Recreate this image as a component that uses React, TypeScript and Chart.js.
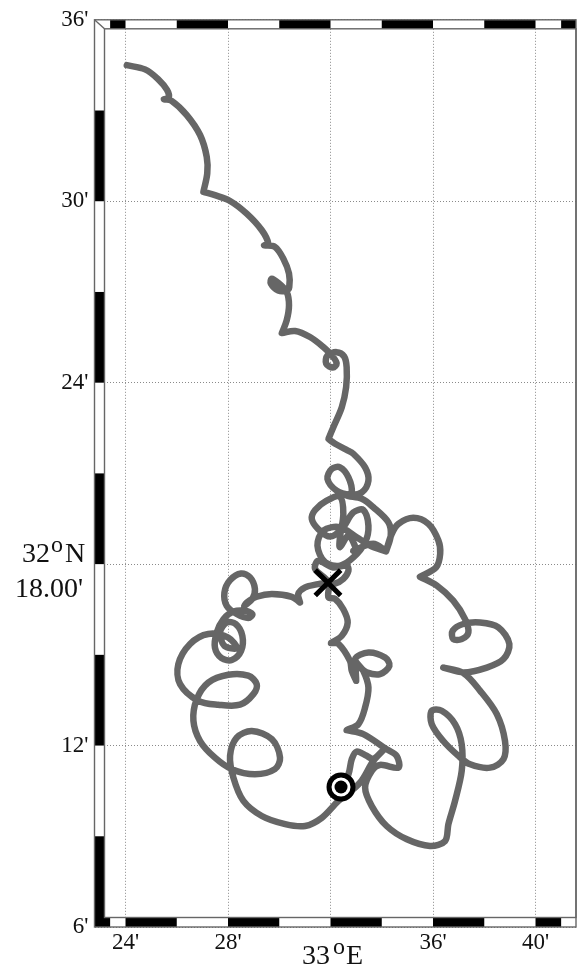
import { useEffect, useRef } from "react";
import { Chart, registerables } from "chart.js";

Chart.register(...registerables);

const trackLon = [
  24.05, 24.76, 25.27, 25.62, 25.69, 25.5, 25.5, 25.8, 26.39, 26.91, 27.17, 27.19, 27.04, 27.04, 27.49, 28.08, 28.73, 29.32, 29.57, 29.41, 29.41, 29.83, 30.16,
  30.38, 30.39, 30.29, 29.96, 29.67, 29.71, 29.99, 30.29, 30.38, 30.29, 30.1, 30.1, 30.62, 31.2, 31.72, 32.05, 32.24, 32.09, 31.83, 31.88, 32.24,
  32.53, 32.63, 32.61, 32.44, 32.11, 31.92, 31.92, 32.18, 32.63, 32.89, 33.35, 33.48, 33.22, 32.76, 32.24, 31.88, 32.05, 32.37, 32.7, 32.83,
  32.63, 33.22, 33.67, 34.26, 34.35, 34.17, 34.17, 33.54, 33.02, 32.37, 31.72, 31.49, 31.79, 32.37, 32.89, 33.35, 33.48, 33.28, 32.89, 32.44, 31.98,
  31.52, 31.27, 31.4, 31.85, 32.37, 32.5, 32.37, 32.37, 32.7, 33.02, 32.89, 33.67, 34.17, 34.17,
  34.39, 34.65, 35.23, 35.82, 36.21, 36.28, 36.12, 35.49, 35.49, 36.15, 36.79, 37.25, 37.38, 37.12, 36.79, 36.77, 37.18, 37.84, 38.55, 38.98, 38.75,
  38.1, 37.18, 36.4, 36.4, 37.18, 37.84, 38.49, 38.81, 38.75, 38.23, 37.45, 36.99, 36.4, 35.95, 35.95, 36.34, 36.86, 37.12, 37.12, 36.86, 36.6,
  36.47, 35.88, 34.98, 34.19, 33.61, 33.35, 33.61, 33.93, 34.65, 34.58, 34.13, 33.28, 32.63, 32.63, 33.09, 33.35, 33.48, 33.28, 32.96, 33.48, 34.13,
  34.3, 33.93, 33.41, 33.02, 33.0, 33.0, 32.83, 32.76, 32.31, 32.02, 32.02, 32.44, 32.67, 32.5, 32.18, 31.92, 31.92, 31.4, 31.52, 32.11, 32.63, 32.7,
  32.5, 32.18, 31.66, 31.52, 31.01, 30.74, 30.81, 30.81, 30.49, 29.71, 29.12, 28.73, 28.64, 28.64, 28.95, 29.05, 28.86, 28.51, 28.08, 27.86, 27.95, 28.34,
  28.79, 28.95, 28.66, 28.21, 27.82, 27.56, 27.49, 27.75, 28.15, 28.51, 28.56, 28.3, 27.95, 27.69, 27.86, 28.34, 28.01, 27.23, 26.52, 26.06,
  26.13, 26.84, 27.62, 28.47, 28.99, 29.12, 28.79, 28.01, 27.23, 26.78, 26.65, 26.91, 27.49, 28.15, 29.05, 29.83, 30.03, 29.71, 28.93, 28.34,
  28.08, 28.21, 28.6, 29.32, 30.23, 31.01, 31.66, 32.31, 33.15, 33.67, 34.13, 34.13, 33.67, 33.41, 33.02, 32.83, 32.7, 32.41,
];

const trackLat = [
  34.5, 34.36, 34.04, 33.68, 33.43, 33.37, 33.37, 33.32, 32.85, 32.19, 31.47, 30.92, 30.31, 30.31, 30.2, 30.01, 29.59, 29.04, 28.6, 28.54, 28.54, 28.49, 28.1,
  27.61, 27.16, 27.05, 27.05, 27.28, 27.44, 27.28, 27.0, 26.56, 26.06, 25.64, 25.64, 25.71, 25.51, 25.18, 24.9, 24.64, 24.5, 24.63, 24.9, 25.01,
  24.87, 24.51, 23.85, 23.19, 22.53, 22.14, 22.14, 21.98, 21.78, 21.65, 21.2, 20.76, 20.37, 20.3, 20.43, 20.82, 21.15, 21.2, 20.87, 20.37,
  20.27, 20.16, 19.88, 19.38, 18.94, 18.42, 18.42, 18.61, 18.89, 19.22, 19.11, 18.61, 18.06, 17.95, 18.22, 18.72, 19.27, 19.79, 19.71, 19.16, 18.91,
  19.16, 19.49, 19.79, 20.1, 20.23, 19.66, 18.89, 18.56, 18.94, 18.44, 18.44, 18.67, 18.44, 18.44,
  19.0, 19.33, 19.53, 19.33, 18.78, 18.34, 17.89, 17.58, 17.58, 17.29, 16.79, 16.18, 15.74, 15.52, 15.52, 15.8, 16.02, 16.07, 15.91, 15.36, 14.86,
  14.58, 14.42, 14.58, 14.58, 14.4, 13.81, 13.04, 12.15, 11.55, 11.27, 11.38, 11.66, 12.15, 12.71, 13.15, 13.15, 12.71, 12.04, 11.16, 10.17, 9.4,
  8.84, 8.68, 8.9, 9.34, 10.0, 10.61, 11.16, 11.36, 11.27, 11.66, 11.91, 12.38, 12.51, 12.51, 12.71, 13.26, 13.92, 14.47, 14.86, 15.08, 14.91,
  14.64, 14.36, 14.42, 14.64, 14.14, 14.14, 14.47, 14.8, 15.36, 15.39, 15.39, 15.63, 16.07, 16.51, 16.85, 16.9, 17.4, 17.84, 18.11, 17.89, 17.95, 17.78,
  17.51, 17.36, 17.36, 17.34, 17.23, 17.01, 16.73, 16.73, 16.92, 17.01, 16.92, 16.73, 16.62, 16.62, 16.85, 17.18, 17.56, 17.69, 17.47, 17.06, 16.62, 16.35,
  16.22, 16.35, 16.46, 16.43, 16.18, 15.74, 15.24, 14.89, 14.83, 15.13, 15.63, 16.02, 16.07, 15.74, 15.3, 15.22, 15.57, 15.69, 15.36, 14.69,
  14.03, 13.48, 13.35, 13.35, 13.7, 14.03, 14.31, 14.34, 14.08, 13.53, 12.82, 12.15, 11.6, 11.22, 11.05, 11.22, 11.6, 12.21, 12.48, 12.26,
  11.66, 10.94, 10.17, 9.67, 9.4, 9.34, 9.61, 10.17, 10.77, 11.49, 11.91, 11.91, 11.56, 11.66, 11.8, 11.55, 11.05, 10.63,
];

const crossLon = [31.9];
const crossLat = [17.38];
const targetLon = [32.41];
const targetLat = [10.63];

const lonTicks = [24, 28, 32, 36, 40];
const latTicks = [6, 12, 18, 24, 30, 36];
const lonBarEdges = [23.4, 24, 26, 28, 30, 32, 34, 36, 38, 40, 41, 41.58];
const latBarEdges = [36, 33, 30, 27, 24, 21, 18, 15, 12, 9, 6];

const lonMin = 22.79;
const lonMax = 41.58;
const SERIF = '"Liberation Serif", "Times New Roman", serif';
const frameInset = 9.5;

const framePlugin = {
  id: "mapFrame",
  afterDraw(chart: any) {
    const { ctx, chartArea: a, scales } = chart;
    const xs = scales.x;
    const ys = scales.y;
    const t = a.top, b = a.bottom, l = a.left, r = a.right;
    const il = l + frameInset + 0.5, it = t + frameInset - 0.5, ib = b - frameInset;
    ctx.save();
    ctx.fillStyle = "#fff";
    ctx.fillRect(l, t, il - l, b - t);
    ctx.fillRect(l, t, r - l, it - t);
    ctx.fillRect(l, ib, r - l, b - ib);
    ctx.fillStyle = "#000";
    latBarEdges.slice(0, -1).forEach((v, i) => {
      if (i % 2 === 1) {
        const y0 = ys.getPixelForValue(v);
        const y1 = ys.getPixelForValue(latBarEdges[i + 1]);
        ctx.fillRect(l, y0, il - l, y1 - y0);
      }
    });
    lonBarEdges.slice(0, -1).forEach((v, i) => {
      const x0 = xs.getPixelForValue(v);
      const x1 = xs.getPixelForValue(lonBarEdges[i + 1]);
      if (i % 2 === 0) ctx.fillRect(x0, t, x1 - x0, it - t);
      else ctx.fillRect(x0, ib, x1 - x0, b - ib);
    });
    ctx.fillRect(l, ib, xs.getPixelForValue(lonBarEdges[0]) - l, b - ib);
    ctx.strokeStyle = "#666";
    ctx.lineWidth = 1.4;
    ctx.strokeRect(l, t, r - l, b - t);
    ctx.strokeRect(il, it, r - il, ib - it);
    ctx.beginPath();
    ctx.moveTo(l, t);
    ctx.lineTo(il, it);
    ctx.stroke();
    ctx.fillStyle = "#111";
    ctx.textAlign = "left";
    ctx.textBaseline = "alphabetic";
    ctx.font = `28px ${SERIF}`;
    ctx.fillText("32", 22, 562);
    ctx.fillText("N", 65, 562);
    ctx.fillText("18.00'", 15, 597);
    ctx.fillText("33", 302, 964);
    ctx.fillText("E", 346, 964);
    ctx.font = `24px ${SERIF}`;
    ctx.fillText("o", 51, 552);
    ctx.fillText("o", 333, 954);
    ctx.restore();
  },
};

export default function App() {
  const ref = useRef<HTMLCanvasElement | null>(null);
  useEffect(() => {
    const chart = new Chart(ref.current as HTMLCanvasElement, {
      type: "scatter",
      plugins: [framePlugin],
      data: {
        datasets: [
          {
            label: "Start",
            data: crossLon.map((x, i) => ({ x, y: crossLat[i] })),
            pointStyle: "crossRot",
            pointRadius: 18,
            pointBorderColor: "#000",
            pointBorderWidth: 5,
            order: 0,
          },
          {
            label: "Dot",
            data: targetLon.map((x, i) => ({ x, y: targetLat[i] })),
            pointStyle: "circle",
            pointRadius: 6.5,
            pointBackgroundColor: "#000",
            pointBorderWidth: 0,
            order: 0,
          },
          {
            label: "Ring",
            data: targetLon.map((x, i) => ({ x, y: targetLat[i] })),
            pointStyle: "circle",
            pointRadius: 12,
            pointBackgroundColor: "#fff",
            pointBorderColor: "#000",
            pointBorderWidth: 5,
            order: 1,
          },
          {
            label: "Track",
            data: trackLon.map((x, i) => ({ x, y: trackLat[i] })),
            showLine: true,
            tension: 0.33,
            borderColor: "#666",
            borderWidth: 6.5,
            borderCapStyle: "round",
            borderJoinStyle: "round",
            pointRadius: 0,
            order: 2,
          },
        ],
      },
      options: {
        responsive: false,
        animation: false,
        layout: { autoPadding: false, padding: { left: 0, top: 19.5, right: 1, bottom: 0 } },
        plugins: { legend: { display: false }, tooltip: { enabled: false } },
        scales: {
          x: {
            type: "linear",
            min: lonMin,
            max: lonMax,
            afterFit(s: any) {
              s.height = 40;
            },
            afterBuildTicks(s: any) {
              s.ticks = lonTicks.map((value) => ({ value }));
            },
            border: { display: false, dash: [1, 2] },
            grid: { color: "#8a8a8a", lineWidth: 1, drawTicks: false },
            ticks: {
              autoSkip: false,
              maxRotation: 0,
              padding: 2,
              color: "#111",
              font: { family: SERIF, size: 23 },
              callback: (v: any) => (v === 32 ? "" : `${v}'`),
            },
          },
          y: {
            type: "linear",
            min: 6,
            max: 36,
            afterFit(s: any) {
              s.width = 94.5;
            },
            afterBuildTicks(s: any) {
              s.ticks = latTicks.map((value) => ({ value }));
            },
            border: { display: false, dash: [1, 2] },
            grid: { color: "#8a8a8a", lineWidth: 1, drawTicks: false },
            ticks: {
              autoSkip: false,
              padding: 6,
              color: "#111",
              font: { family: SERIF, size: 23 },
              callback: (v: any) => (v === 18 ? "" : `${v}'`),
            },
          },
        },
      } as any,
    });
    return () => chart.destroy();
  }, []);
  return (
    <div style={{ position: "absolute", left: 0, top: 0, width: 577, height: 967, background: "#fff", overflow: "hidden" }}>
      <canvas ref={ref} width={577} height={967} style={{ display: "block", width: 577, height: 967 }} />
    </div>
  );
}
